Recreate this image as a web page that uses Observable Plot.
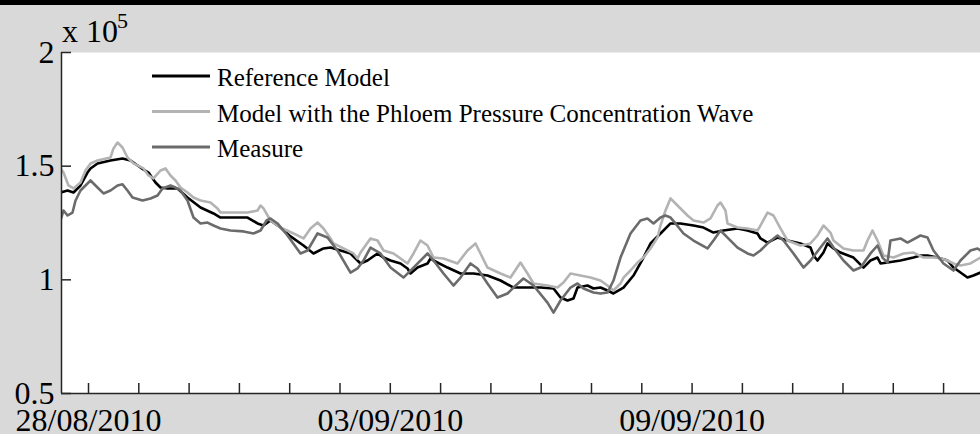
<!DOCTYPE html>
<html><head><meta charset="utf-8">
<script src="https://cdn.jsdelivr.net/npm/d3@7"></script>
<script src="https://cdn.jsdelivr.net/npm/@observablehq/plot@0.6"></script>
<style>
html,body{margin:0;padding:0;background:#d9d9d9;}
#band{height:5px;background:#000;}
#chart svg{display:block;}
</style></head><body>
<div id="band"></div>
<div id="chart"></div>
<script>
// time origin: 28/08/2010 00:00 (UTC); times in days from it; values in units of 10^5
const startDate = Date.UTC(2010, 7, 28);
const seriesNames = ["Reference Model", "Model with the Phloem Pressure Concentration Wave", "Measure"];
const seriesColors = ["#000000", "#b3b3b3", "#6b6b6b"];

const refDays = [-0.557,-0.417,-0.298,-0.159,-0.020,0.040,0.179,0.437,0.676,0.835,1.034,1.193,1.332,1.431,1.571,1.769,1.968,2.227,2.485,2.624,2.883,3.161,3.360,3.479,3.618,3.817,4.016,4.274,4.473,4.672,4.811,5.010,5.209,5.408,5.547,5.746,5.865,6.004,6.203,6.342,6.402,6.541,6.740,6.799,6.859,7.137,7.396,7.654,7.932,8.191,8.449,8.728,8.986,9.245,9.384,9.523,9.642,9.722,9.920,10.040,10.179,10.318,10.437,10.636,10.835,11.034,11.173,11.372,11.571,11.769,12.028,12.227,12.425,12.624,12.903,13.101,13.300,13.360,13.499,13.698,13.897,14.155,14.354,14.414,14.493,14.612,14.692,14.811,14.950,15.209,15.408,15.547,15.686,15.746,15.885,16.143,16.402,16.541,16.680,16.879,17.078,17.197,17.336,17.475,17.594,17.734];
const refValues = [1.384,1.393,1.384,1.415,1.472,1.490,1.512,1.525,1.534,1.525,1.494,1.472,1.428,1.406,1.402,1.402,1.362,1.318,1.292,1.274,1.274,1.274,1.248,1.239,1.261,1.230,1.191,1.151,1.116,1.138,1.142,1.129,1.116,1.072,1.085,1.116,1.098,1.085,1.072,1.050,1.028,1.054,1.072,1.094,1.085,1.054,1.028,1.028,1.019,0.997,0.966,0.966,0.966,0.962,0.922,0.909,0.918,0.966,0.975,0.962,0.966,0.953,0.940,0.966,1.019,1.098,1.160,1.204,1.248,1.248,1.239,1.230,1.208,1.217,1.226,1.217,1.204,1.182,1.164,1.186,1.173,1.160,1.142,1.107,1.085,1.120,1.160,1.138,1.120,1.098,1.054,1.085,1.098,1.072,1.076,1.085,1.098,1.107,1.107,1.098,1.085,1.054,1.032,1.010,1.019,1.032];

const phloemDays = [-0.557,-0.497,-0.398,-0.298,-0.159,-0.060,0.040,0.179,0.437,0.497,0.577,0.676,0.775,0.895,1.093,1.193,1.292,1.431,1.531,1.630,1.730,1.829,1.968,2.087,2.227,2.425,2.565,2.624,2.883,3.161,3.360,3.420,3.479,3.618,3.817,4.076,4.274,4.414,4.553,4.672,4.811,4.871,5.070,5.268,5.348,5.408,5.606,5.746,5.865,6.064,6.342,6.461,6.600,6.740,6.859,7.058,7.336,7.535,7.694,7.793,7.932,8.191,8.390,8.588,8.728,8.847,9.125,9.324,9.443,9.583,9.781,9.980,10.179,10.318,10.437,10.577,10.636,10.775,10.915,11.034,11.173,11.312,11.372,11.471,11.571,11.710,11.909,12.028,12.227,12.366,12.505,12.565,12.664,12.704,12.903,13.101,13.300,13.360,13.499,13.618,13.757,13.897,14.155,14.354,14.493,14.612,14.751,14.811,15.010,15.209,15.408,15.487,15.586,15.686,15.805,16.004,16.203,16.402,16.600,16.879,17.078,17.197,17.336,17.535,17.734];
const phloemValues = [1.490,1.472,1.415,1.402,1.428,1.481,1.512,1.525,1.538,1.578,1.604,1.582,1.538,1.512,1.490,1.459,1.446,1.481,1.490,1.459,1.437,1.406,1.384,1.362,1.349,1.340,1.314,1.296,1.296,1.296,1.305,1.327,1.314,1.261,1.230,1.204,1.182,1.226,1.252,1.226,1.182,1.160,1.138,1.116,1.094,1.120,1.182,1.173,1.129,1.116,1.072,1.116,1.173,1.151,1.098,1.094,1.072,1.129,1.160,1.116,1.054,1.028,1.010,1.076,1.028,0.984,0.975,0.966,0.988,1.028,1.019,1.010,0.997,0.975,0.953,0.984,1.010,1.041,1.076,1.098,1.138,1.186,1.239,1.305,1.358,1.327,1.283,1.261,1.252,1.270,1.327,1.340,1.305,1.248,1.230,1.226,1.217,1.239,1.296,1.283,1.226,1.173,1.151,1.160,1.195,1.239,1.208,1.173,1.138,1.129,1.129,1.173,1.217,1.173,1.107,1.098,1.116,1.120,1.098,1.098,1.085,1.072,1.063,1.072,1.098];

const measureDays = [-0.557,-0.497,-0.417,-0.318,-0.258,-0.159,0.040,0.179,0.298,0.437,0.577,0.676,0.775,0.875,1.074,1.233,1.372,1.471,1.630,1.730,1.829,1.968,2.087,2.227,2.366,2.485,2.624,2.823,3.082,3.280,3.420,3.539,3.618,3.757,3.956,4.215,4.354,4.553,4.751,4.950,5.209,5.348,5.467,5.606,5.805,6.004,6.262,6.461,6.740,6.859,7.058,7.256,7.396,7.594,7.734,7.932,8.131,8.330,8.449,8.648,8.847,9.125,9.245,9.384,9.583,9.722,9.841,10.040,10.179,10.318,10.437,10.577,10.775,10.974,11.113,11.233,11.372,11.471,11.571,11.670,11.829,12.028,12.306,12.425,12.565,12.704,12.903,13.101,13.221,13.360,13.499,13.698,13.817,14.016,14.215,14.354,14.553,14.692,14.811,15.010,15.209,15.348,15.547,15.686,15.785,15.885,15.944,16.143,16.282,16.541,16.680,16.799,16.998,17.197,17.336,17.535,17.674,17.734];
const measureValues = [1.261,1.305,1.283,1.296,1.349,1.393,1.437,1.406,1.380,1.393,1.415,1.420,1.393,1.362,1.349,1.358,1.371,1.402,1.415,1.406,1.393,1.349,1.274,1.248,1.252,1.239,1.226,1.217,1.213,1.204,1.217,1.261,1.270,1.248,1.195,1.116,1.129,1.204,1.186,1.129,1.032,1.050,1.085,1.142,1.116,1.054,1.010,1.054,1.116,1.085,1.028,0.975,1.010,1.072,1.050,0.984,0.922,0.940,0.966,1.006,0.975,0.900,0.856,0.909,0.966,0.984,0.962,0.944,0.940,0.944,0.997,1.098,1.204,1.261,1.270,1.248,1.274,1.283,1.274,1.248,1.204,1.173,1.138,1.173,1.217,1.186,1.142,1.116,1.107,1.129,1.160,1.195,1.173,1.116,1.054,1.085,1.142,1.182,1.142,1.085,1.041,1.054,1.116,1.151,1.098,1.076,1.173,1.182,1.164,1.195,1.186,1.129,1.072,1.041,1.085,1.129,1.138,1.129];

const xDomainDays = [-0.537, 17.734];
const yDomain = [0.5, 2];
const yTicks = [0.5, 1, 1.5, 2];
const tickDayOffsets = d3.range(0, 18);          // one tick per day
const labelDayOffsets = [0, 6, 12];              // 28/08, 03/09, 09/09

const toDate = d => new Date(startDate + d * 864e5);
function rows(days, values, name) {
  return days.map((d, i) => ({t: toDate(d), v: values[i], series: name}));
}
const refRows = rows(refDays, refValues, seriesNames[0]);
const phloemRows = rows(phloemDays, phloemValues, seriesNames[1]);
const measureRows = rows(measureDays, measureValues, seriesNames[2]);

const axisColor = "#262626";
const font = "'Liberation Serif', 'Times New Roman', serif";

const chart = Plot.plot({
  width: 980, height: 429,
  marginLeft: 61, marginRight: 0, marginTop: 47, marginBottom: 41,
  style: {background: "#d9d9d9", fontFamily: font, color: "#000"},
  x: {type: "utc", domain: xDomainDays.map(toDate), axis: null},
  y: {domain: yDomain, axis: null},
  marks: [
    Plot.frame({fill: "white", stroke: "none"}),
    Plot.line(refRows, {x: "t", y: "v", stroke: seriesColors[0], strokeWidth: 2.6, clip: true}),
    Plot.line(phloemRows, {x: "t", y: "v", stroke: seriesColors[1], strokeWidth: 2.6, clip: true}),
    Plot.line(measureRows, {x: "t", y: "v", stroke: seriesColors[2], strokeWidth: 2.6, clip: true}),
    Plot.ruleY([yDomain[0]], {stroke: axisColor, strokeWidth: 1.5}),
    Plot.ruleX([toDate(xDomainDays[0])], {stroke: axisColor, strokeWidth: 1.5}),
    Plot.axisX({ticks: tickDayOffsets.map(toDate), tickSize: 10, dy: -10, tickFormat: () => "", label: null, stroke: axisColor, strokeWidth: 1.5}),
    Plot.axisX({ticks: labelDayOffsets.map(toDate), tickSize: 0, tickPadding: 15, tickFormat: d3.utcFormat("%d/%m/%Y"), label: null, fontSize: 32, fontFamily: font, fill: "#000"}),
    Plot.axisY({ticks: yTicks, tickSize: 10, dx: 10, tickFormat: () => "", label: null, stroke: axisColor, strokeWidth: 1.5}),
    Plot.axisY({ticks: yTicks, tickSize: 0, tickPadding: 7, tickFormat: d => String(d), label: null, fontSize: 32, fontFamily: font, fill: "#000"})
  ]
});
document.getElementById("chart").append(chart);

// exponent label and legend
const svg = d3.select(chart);
svg.append("text").attr("x", 62).attr("y", 37).attr("text-anchor", "start")
  .attr("font-family", font).attr("font-size", 32).attr("fill", "#000").text("x 10");
svg.append("text").attr("x", 117).attr("y", 23).attr("text-anchor", "start")
  .attr("font-family", font).attr("font-size", 22).attr("fill", "#000").text("5");

const legendRowY = [71, 106.5, 142];
const leg = svg.append("g");
seriesNames.forEach((name, i) => {
  leg.append("line").attr("x1", 152).attr("x2", 210).attr("y1", legendRowY[i]).attr("y2", legendRowY[i])
    .attr("stroke", seriesColors[i]).attr("stroke-width", 3);
  leg.append("text").attr("x", 217).attr("y", legendRowY[i] + 10).attr("text-anchor", "start")
    .attr("font-family", font).attr("font-size", 25).attr("fill", "#000").text(name);
});
</script>
</body></html>
